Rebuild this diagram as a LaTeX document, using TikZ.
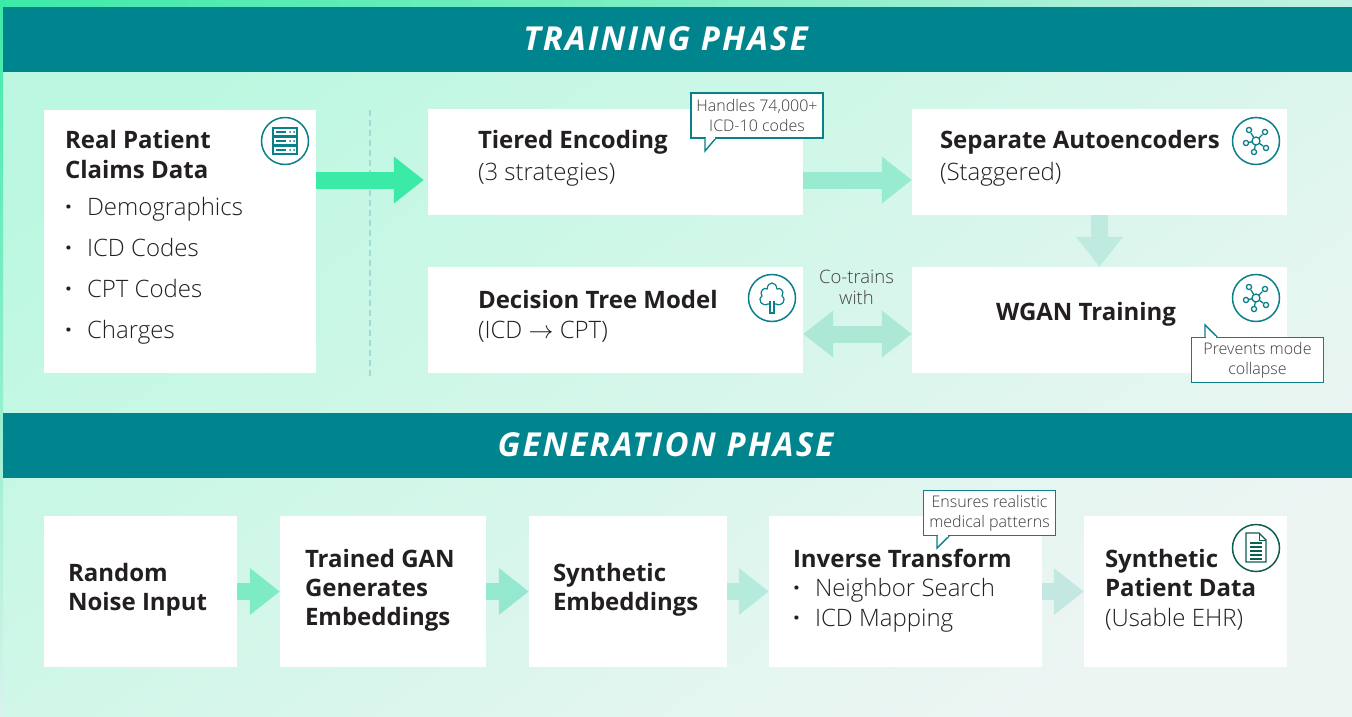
\documentclass[tikz,border=0pt]{standalone}
\usepackage{fontspec}
\setmainfont{Open Sans Light}[BoldFont={Open Sans Bold},BoldItalicFont={Open Sans Bold Italic}]
\usetikzlibrary{arrows.meta,positioning}
\definecolor{teal}{HTML}{00858F}
\definecolor{iconteal}{HTML}{0B7F8A}
\definecolor{icondark}{HTML}{0E5F4E}
\definecolor{ink}{HTML}{231F20}
\definecolor{flowa}{HTML}{3CEAA8}
\definecolor{flowb}{HTML}{98EAD0}
\definecolor{flowc}{HTML}{BFEADF}
\definecolor{flowd}{HTML}{ADE8D6}
\definecolor{gena}{HTML}{7DEBC4}
\definecolor{genb}{HTML}{93E8CF}
\definecolor{genc}{HTML}{B5EBDD}
\definecolor{gend}{HTML}{C3E8E1}
\definecolor{bgstart}{HTML}{BCF8E1}
\definecolor{bgend}{HTML}{EDF5F3}
\newcommand{\itm}[1]{\makebox[22pt][l]{\textbf{\textperiodcentered}}#1}
\tikzset{
    band/.style={rectangle, fill=teal, minimum width=1349pt, minimum height=65pt, inner sep=0pt},
    phasetitle/.style={text=white, inner sep=0pt, font=\fontsize{33}{40}\selectfont\bfseries\itshape\addfontfeature{LetterSpace=6.4}},
    box/.style={rectangle, fill=white, inner sep=0pt},
    txt/.style={anchor=north west, align=left, inner sep=0pt, text=ink, font=\fontsize{24}{30}\selectfont},
    blockarrow/.style={line width=17pt, -{Triangle[length=30pt,width=45pt]}},
    bothway/.style={line width=17pt, {Triangle[length=30pt,width=45pt]}-{Triangle[length=30pt,width=45pt]}},
    note/.style={rectangle, draw=iconteal, line width=1.4pt, fill=white, inner sep=0pt, minimum width=132pt, minimum height=45pt, align=center, text=ink!88, font=\fontsize{16}{20}\selectfont},
    tail/.style={draw=iconteal, line width=1.4pt, fill=white, line join=miter},
    iconring/.style={draw, line width=1.5pt, fill=white, circle, minimum size=47pt, inner sep=0pt},
    servericon/.pic={
        \draw[line width=1.2pt] (-12,-13) rectangle (12,-5) (-12,-4) rectangle (12,4) (-12,5) rectangle (12,13);
        \foreach \y in {-9,0,9} {
            \draw[line width=1.2pt] (-9,\y) -- (1,\y);
            \fill (5,\y) circle (1pt) (9,\y) circle (1pt);
        }
    },
    neticon/.pic={
        \foreach \a/\b in {-7/-11,9/-9,-10/2,10/7,-2/11} {
            \draw[line width=1.3pt] (\a,\b) circle (2.6);
            \draw[line width=1.3pt] (0,0) -- (\a*0.72,\b*0.72);
        }
        \filldraw[fill=white, line width=1.3pt] (0,0) circle (4);
    },
    treeicon/.pic={
        \draw[line width=1.2pt] (-2,6) -- (-4,6) .. controls (-10,9) and (-15,2) .. (-10,-2) .. controls (-13,-8) and (-7,-11) .. (-5,-9) .. controls (-4,-17) and (4,-17) .. (5,-9) .. controls (8,-11) and (13,-7) .. (10,-2) .. controls (15,2) and (10,9) .. (4,6) -- (2,6);
        \draw[line width=1.2pt] (-2,3) -- (-2,15) -- (2,15) -- (2,3);
    },
    docicon/.pic={
        \draw[line width=1.2pt] (-10,-15) -- (3,-15) -- (10,-8) -- (10,14) -- (-10,14) -- cycle;
        \draw[line width=1pt] (3,-15) -- (3,-8) -- (10,-8);
        \foreach \y in {-5,-1,3,7,11} \draw[line width=1.2pt] (-6,\y) -- (6,\y);
    }
}
\begin{document}
\begin{tikzpicture}[x=1pt, y=-1pt]
    \useasboundingbox (0,0) rectangle (1352,717);
    % Background
    \shade[top color=bgstart, bottom color=bgend, shading angle=35] (0,0) rectangle (1352,717);
    \shade[left color=flowa, right color=flowb!60!white] (0,0) rectangle (1352,7);
    \shade[top color=flowa, bottom color=flowc!60!white] (0,0) rectangle (3,717);

    % Phase bands
    \node[band] (trainband) at (677.5,39.5) {};
    \node[phasetitle] (traintitle) at (665.5,39) {TRAINING PHASE};
    \node[band] (genband) at (677.5,445.5) {};
    \node[phasetitle] (gentitle) at (665.5,445) {GENERATION PHASE};

    % Training boxes
    \node[box, minimum width=272pt, minimum height=263pt] (claims) at (180,241.5) {};
    \node[box, minimum width=375pt, minimum height=106pt] (tiered) at (615.5,162) {};
    \node[box, minimum width=375pt, minimum height=106pt] (autoenc) at (1099.5,162) {};
    \node[box, minimum width=375pt, minimum height=106pt] (tree) at (615.5,320) {};
    \node[box, minimum width=375pt, minimum height=106pt] (wgan) at (1099.5,320) {};

    % Generation boxes
    \node[box, minimum width=193pt, minimum height=151pt] (noise) at (140.5,591.5) {};
    \node[box, minimum width=206pt, minimum height=151pt] (trained) at (383,591.5) {};
    \node[box, minimum width=198pt, minimum height=151pt] (embed) at (628,591.5) {};
    \node[box, minimum width=273pt, minimum height=151pt] (inverse) at (905.5,591.5) {};
    \node[box, minimum width=203pt, minimum height=151pt] (synth) at (1185.5,591.5) {};

    % Divider
    \coordinate (divtop) at (370,110);
    \coordinate (divbot) at (370,380);
    \draw[flowc!85!teal, line width=2.5pt, dash pattern=on 6pt off 4pt] (divtop) -- (divbot);

    % Text
    \node[txt, below right=20.5pt and 21pt of claims.north west] (claimstxt) {\textbf{Real Patient}\\\textbf{Claims Data}};
    \node[txt, font=\fontsize{24}{41}\selectfont, below right=87pt and 21pt of claims.north west] (claimslist) {\itm{Demographics}\\\itm{ICD Codes}\\\itm{CPT Codes}\\\itm{Charges}};
    \node[txt, font=\fontsize{24}{32}\selectfont, below right=21pt and 50pt of tiered.north west] (tieredtxt) {\textbf{Tiered Encoding}\\(3 strategies)};
    \node[txt, font=\fontsize{24}{32}\selectfont, below right=21pt and 28pt of autoenc.north west] (autoenctxt) {\textbf{Separate Autoencoders}\\(Staggered)};
    \node[txt, below right=23pt and 50pt of tree.north west] (treetxt) {\textbf{Decision Tree Model}\\(ICD $\rightarrow$ CPT)};
    \node[txt, below right=35pt and 84pt of wgan.north west] (wgantxt) {\textbf{WGAN Training}};
    \node[txt, font=\fontsize{24}{29}\selectfont, below right=47pt and 24pt of noise.north west] (noisetxt) {\textbf{Random}\\\textbf{Noise Input}};
    \node[txt, font=\fontsize{24}{29}\selectfont, below right=33pt and 25pt of trained.north west] (trainedtxt) {\textbf{Trained GAN}\\\textbf{Generates}\\\textbf{Embeddings}};
    \node[txt, font=\fontsize{24}{29}\selectfont, below right=47pt and 24pt of embed.north west] (embedtxt) {\textbf{Synthetic}\\\textbf{Embeddings}};
    \node[txt, font=\fontsize{24}{29.5}\selectfont, below right=33pt and 24pt of inverse.north west] (inversetxt) {\textbf{Inverse Transform}\\\itm{Neighbor Search}\\\itm{ICD Mapping}};
    \node[txt, font=\fontsize{24}{29.5}\selectfont, below right=33pt and 21pt of synth.north west] (synthtxt) {\textbf{Synthetic}\\\textbf{Patient Data}\\(Usable EHR)};
    \node[align=center, inner sep=0pt, text=ink!85, font=\fontsize{18.5}{21}\selectfont] (cotrain) at (856.5,287) {Co-trains\\with};

    % Arrows
    \coordinate (claimsout) at ([yshift=-18pt]tiered.west);
    \draw[blockarrow, flowa, shorten >=4pt] (claims.east |- claimsout) -- (claimsout);
    \draw[blockarrow, flowb] ([yshift=-18pt]tiered.east) -- ([yshift=-18pt]autoenc.west);
    \draw[blockarrow, flowc] (autoenc.south) -- (wgan.north);
    \draw[bothway, flowd] ([yshift=-14pt]tree.east) -- ([yshift=-14pt]wgan.west);
    \draw[blockarrow, gena] (noise) -- (trained);
    \draw[blockarrow, genb] (trained) -- (embed);
    \draw[blockarrow, genc] (embed) -- (inverse);
    \draw[blockarrow, gend] (inverse) -- (synth);

    % Icons
    \node[iconring, draw=iconteal] (servering) at (285,141) {};
    \pic[iconteal] at (servering.center) {servericon};
    \node[iconring, draw=iconteal] (netring) at (1256,141) {};
    \pic[iconteal] at (netring.center) {neticon};
    \node[iconring, draw=iconteal] (treering) at (772,298) {};
    \pic[iconteal] at (treering.center) {treeicon};
    \node[iconring, draw=iconteal] (ganring) at (1256,298) {};
    \pic[iconteal] at (ganring.center) {neticon};
    \node[iconring, draw=icondark] (docring) at (1256,548) {};
    \pic[icondark] at (docring.center) {docicon};

    % Callouts
    \node[note] (encnote) at (757,115.5) {Handles 74,000+\\ICD-10 codes};
    \filldraw[tail] (705,138) -- (705,151) -- (716,138);
    \draw[white, line width=1.6pt] (705.8,138) -- (715,138);
    \node[note] (gannote) at (1257.5,360) {Prevents mode\\collapse};
    \filldraw[tail] (1205,337) -- (1205,325) -- (1217,337);
    \draw[white, line width=1.6pt] (1205.8,337) -- (1216,337);
    \node[note] (invnote) at (989.5,513) {Ensures realistic\\medical patterns};
    \filldraw[tail] (937,536) -- (937,548) -- (949,536);
    \draw[white, line width=1.6pt] (937.8,536) -- (948,536);
\end{tikzpicture}
\end{document}
